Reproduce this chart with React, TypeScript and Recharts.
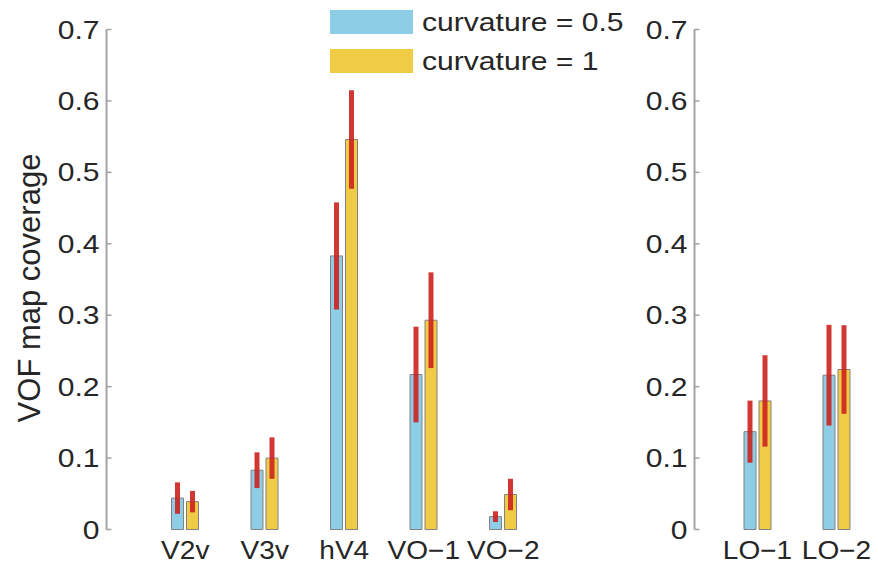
import React from "react";
import { BarChart, Bar, XAxis, YAxis, ErrorBar } from "recharts";

// ventral areas (left panel) and lateral areas (right panel)
const VENTRAL = ["V2v", "V3v", "hV4", "VO\u22121", "VO\u22122"];
const LATERAL = ["LO\u22121", "LO\u22122"];

// mean coverage and half-width of the error bar, curvature = 0.5 / curvature = 1
const VENTRAL_C05 = [0.044, 0.083, 0.383, 0.217, 0.018];
const VENTRAL_C05_ERR = [0.022, 0.025, 0.075, 0.067, 0.0075];
const VENTRAL_C1 = [0.039, 0.1, 0.546, 0.293, 0.049];
const VENTRAL_C1_ERR = [0.015, 0.029, 0.069, 0.067, 0.022];

const LATERAL_C05 = [0.137, 0.216];
const LATERAL_C05_ERR = [0.0435, 0.0705];
const LATERAL_C1 = [0.18, 0.224];
const LATERAL_C1_ERR = [0.064, 0.062];

const Y_TICKS = [0, 0.1, 0.2, 0.3, 0.4, 0.5, 0.6, 0.7];

const BLUE = "#8dcde6";
const YELLOW = "#f0cb45";
const EDGE = "#828282";
const ERR = "rgba(204, 34, 30, 0.9)";
const AXIS = "#a3a3a3";
const TEXT = "#262626";
const FONT = "'Liberation Sans', Arial, Helvetica, sans-serif";
const FONT_SIZE = 25.5;
const STRETCH = 1.18; // labels are drawn a bit wide
const X_STRETCH = 1.1;

const rows = (names: string[], a: number[], ae: number[], b: number[], be: number[]) =>
  names.map((name, i) => ({ name, c05: a[i], c05Err: ae[i], c1: b[i], c1Err: be[i] }));

const ventralData = rows(VENTRAL, VENTRAL_C05, VENTRAL_C05_ERR, VENTRAL_C1, VENTRAL_C1_ERR);
const lateralData = rows(LATERAL, LATERAL_C05, LATERAL_C05_ERR, LATERAL_C1, LATERAL_C1_ERR);

const TICK_MARGIN = 7;

// tick label plus a short inward tick, matlab style
const YTick = ({ x, y, payload }: any) => (
  <g>
    <line x1={x + TICK_MARGIN} x2={x + TICK_MARGIN + 5} y1={y} y2={y} stroke={AXIS} strokeWidth={1.5} />
    <g transform={`translate(${x},${y}) scale(${STRETCH},1)`}>
      <text x={0} y={0} dy="0.355em" textAnchor="end" fill={TEXT} fontSize={FONT_SIZE} fontFamily={FONT}>
        {payload.value === 0 ? "0" : payload.value.toFixed(1)}
      </text>
    </g>
  </g>
);

const XTick = ({ x, y, payload }: any) => (
  <g transform={`translate(${x},${y}) scale(${X_STRETCH},1)`}>
    <text x={0} y={0} dy="0.71em" textAnchor="middle" fill={TEXT} fontSize={FONT_SIZE} fontFamily={FONT}>
      {payload.value}
    </text>
  </g>
);

function Panel({ data, width, axisWidth, padding }: any) {
  return (
    <BarChart
      width={width}
      height={570}
      data={data}
      margin={{ top: 29.5, right: 0, bottom: 0, left: 0 }}
      barSize={12}
      barGap={3}
    >
      <XAxis
        dataKey="name"
        axisLine={false}
        tickLine={false}
        tickSize={0}
        tickMargin={11}
        height={40.5}
        padding={padding}
        interval={0}
        tick={<XTick />}
      />
      <YAxis
        width={axisWidth}
        domain={[0, 0.7]}
        ticks={Y_TICKS}
        axisLine={{ stroke: AXIS, strokeWidth: 2 }}
        tickLine={false}
        tickSize={0}
        tickMargin={TICK_MARGIN}
        tick={<YTick />}
      />
      <Bar dataKey="c05" fill={BLUE} stroke={EDGE} strokeWidth={1} isAnimationActive={false}>
        <ErrorBar dataKey="c05Err" width={0} strokeWidth={5} stroke={ERR} direction="y" />
      </Bar>
      <Bar dataKey="c1" fill={YELLOW} stroke={EDGE} strokeWidth={1} isAnimationActive={false}>
        <ErrorBar dataKey="c1Err" width={0} strokeWidth={5} stroke={ERR} direction="y" />
      </Bar>
    </BarChart>
  );
}

const legendItems = [
  { label: "curvature = 0.5", color: BLUE, top: 10 },
  { label: "curvature = 1", color: YELLOW, top: 49 },
];

export default function App() {
  return (
    <div
      style={{
        position: "absolute",
        left: 0,
        top: 0,
        width: 878,
        height: 570,
        background: "#fff",
        fontFamily: FONT,
        color: TEXT,
      }}
    >
      <div style={{ position: "absolute", left: 0, top: 0 }}>
        <Panel data={ventralData} width={582} axisWidth={106.5} padding={{ left: 39, right: 39 }} />
      </div>
      <div style={{ position: "absolute", left: 600, top: 0 }}>
        <Panel data={lateralData} width={278} axisWidth={94.5} padding={{ left: 23.5, right: 2 }} />
      </div>

      <div
        style={{
          position: "absolute",
          left: 30,
          top: 288,
          transform: "translate(-50%, -50%) rotate(-90deg)",
          whiteSpace: "nowrap",
          fontSize: 31,
        }}
      >
        VOF map coverage
      </div>

      {legendItems.map((it) => (
        <div key={it.label} style={{ position: "absolute", left: 330, top: it.top, display: "flex", alignItems: "center" }}>
          <div style={{ width: 83, height: 24, background: it.color }} />
          <span
            style={{
              marginLeft: 9,
              fontSize: FONT_SIZE,
              lineHeight: "24px",
              whiteSpace: "nowrap",
              display: "inline-block",
              transform: `scaleX(${STRETCH})`,
              transformOrigin: "left center",
            }}
          >
            {it.label}
          </span>
        </div>
      ))}
    </div>
  );
}
